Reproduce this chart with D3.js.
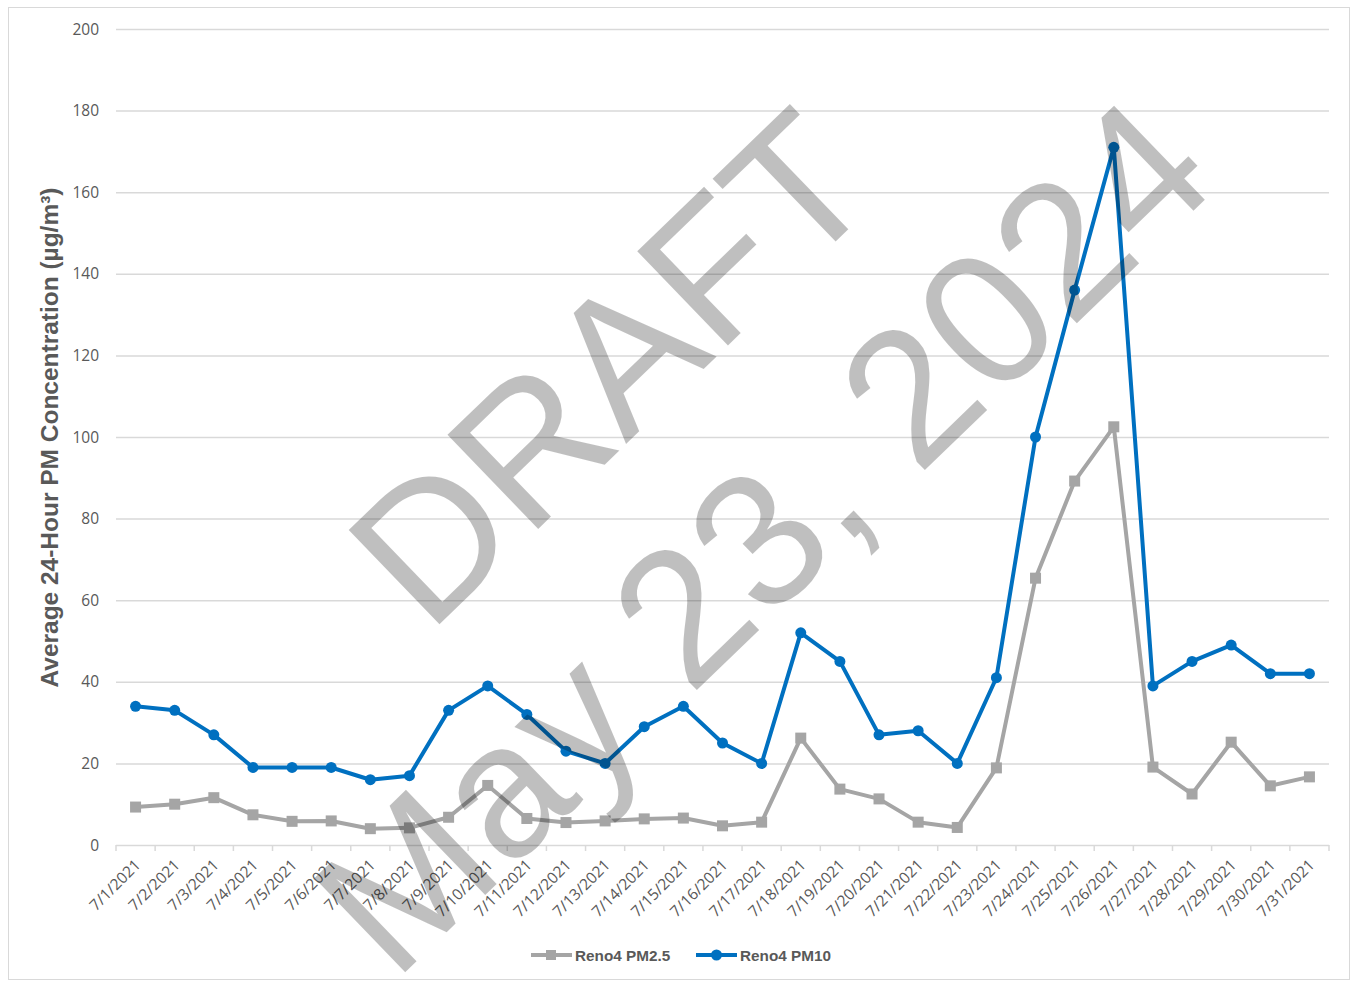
<!DOCTYPE html>
<html><head><meta charset="utf-8">
<script src="https://cdn.jsdelivr.net/npm/d3@7"></script>
<style>html,body{margin:0;padding:0;background:#fff;} svg{display:block;}</style>
</head><body>
<svg id="chart" width="1353" height="981"></svg>
<script>
const dates = ["7/1/2021","7/2/2021","7/3/2021","7/4/2021","7/5/2021","7/6/2021","7/7/2021","7/8/2021","7/9/2021","7/10/2021","7/11/2021","7/12/2021","7/13/2021","7/14/2021","7/15/2021","7/16/2021","7/17/2021","7/18/2021","7/19/2021","7/20/2021","7/21/2021","7/22/2021","7/23/2021","7/24/2021","7/25/2021","7/26/2021","7/27/2021","7/28/2021","7/29/2021","7/30/2021","7/31/2021"];
const pm25 = [9.3,10.0,11.6,7.4,5.8,5.9,4.0,4.2,6.8,14.6,6.5,5.5,5.9,6.4,6.6,4.7,5.6,26.2,13.7,11.3,5.6,4.3,18.9,65.4,89.2,102.5,19.1,12.5,25.2,14.5,16.7];
const pm10 = [34,33,27,19,19,19,16,17,33,39,32,23,20,29,34,25,20,52,45,27,28,20,41,100,136,171,39,45,49,42,42];
const yTicks = [0,20,40,60,80,100,120,140,160,180,200];
const seriesNames = ["Reno4 PM2.5","Reno4 PM10"];
const watermarkLines = ["DRAFT","May 23, 2024"];
const yTitle = "Average 24-Hour PM Concentration (µg/m³)";

const svg = d3.select("#chart");
const textColor = "#595959", gridColor = "#d9d9d9";
const blue = "#0070c0", gray = "#a5a5a5";
const font = "'Liberation Sans', Arial, sans-serif";
const tickFont = "'Open Sans', 'Liberation Sans', sans-serif";

svg.append("rect").attr("x",8.5).attr("y",7.5).attr("width",1341).attr("height",972)
  .attr("fill","#fff").attr("stroke","#d9d9d9").attr("stroke-width",1);

const x = d3.scaleBand().domain(dates).range([116,1329]).padding(0);
const y = d3.scaleLinear().domain([0,200]).range([845,29]);

// gridlines
svg.append("g").selectAll("line").data(yTicks).join("line")
  .attr("x1",116).attr("x2",1329).attr("y1",d=>y(d)+0.5).attr("y2",d=>y(d)+0.5)
  .attr("stroke",gridColor).attr("stroke-width",1.5);

// y axis labels
svg.append("g").selectAll("text").data(yTicks).join("text")
  .attr("x",99).attr("y",d=>y(d)).attr("dy","0.36em").attr("text-anchor","end")
  .attr("font-family",tickFont).attr("font-size",15.5).attr("fill",textColor).text(d=>d);

// x ticks at category boundaries
const bounds = dates.map(d=>x(d)).concat([x.range()[1]]);
svg.append("g").selectAll("line").data(bounds).join("line")
  .attr("x1",d=>d).attr("x2",d=>d).attr("y1",845).attr("y2",851)
  .attr("stroke",gridColor).attr("stroke-width",1.5);

// x labels
svg.append("g").selectAll("text").data(dates).join("text")
  .attr("transform",d=>`translate(${x(d)+x.bandwidth()/2+6},${866}) rotate(-45)`)
  .attr("text-anchor","end").attr("font-family",tickFont).attr("font-size",15.5)
  .attr("fill",textColor).text(d=>d);

// y title, sized to span the reference length
const yt = svg.append("text").attr("transform","translate(58,437.5) rotate(-90)")
  .attr("text-anchor","middle").attr("font-family",font).attr("font-weight","bold")
  .attr("font-size",20).attr("fill",textColor).text(yTitle);
const natural = yt.node().getComputedTextLength();
yt.attr("font-size", 20*500/natural);

const cx = d => x(d)+x.bandwidth()/2;
const line = d3.line().x((d,i)=>cx(dates[i])).y(d=>y(d));

// PM2.5
svg.append("path").datum(pm25).attr("d",line).attr("fill","none")
  .attr("stroke",gray).attr("stroke-width",4).attr("stroke-linejoin","round");
svg.append("g").selectAll("rect").data(pm25).join("rect")
  .attr("x",(d,i)=>cx(dates[i])-5.5).attr("y",d=>y(d)-5.5).attr("width",11).attr("height",11)
  .attr("fill",gray);

// PM10
svg.append("path").datum(pm10).attr("d",line).attr("fill","none")
  .attr("stroke",blue).attr("stroke-width",4).attr("stroke-linejoin","round");
svg.append("g").selectAll("circle").data(pm10).join("circle")
  .attr("cx",(d,i)=>cx(dates[i])).attr("cy",d=>y(d)).attr("r",5.5).attr("fill",blue);

// legend
const lg = svg.append("g").attr("font-family",font).attr("font-weight","bold")
  .attr("font-size",15.3).attr("fill",textColor);
const legendItems = [{name:seriesNames[0],color:gray,shape:"rect",x0:531},
                     {name:seriesNames[1],color:blue,shape:"circle",x0:696}];
legendItems.forEach(it=>{
  lg.append("line").attr("x1",it.x0).attr("x2",it.x0+41).attr("y1",955).attr("y2",955)
    .attr("stroke",it.color).attr("stroke-width",4);
  if(it.shape==="rect") lg.append("rect").attr("x",it.x0+15).attr("y",950).attr("width",10).attr("height",10).attr("fill",it.color);
  else lg.append("circle").attr("cx",it.x0+20.5).attr("cy",955).attr("r",5.5).attr("fill",it.color);
  lg.append("text").attr("x",it.x0+44).attr("y",955).attr("dy","0.36em").text(it.name);
});

// watermark
const wm = svg.append("g").attr("font-family",font).attr("font-size",190)
  .attr("fill","rgba(0,0,0,0.25)");
wm.append("text").attr("transform","translate(656,415) rotate(-44)")
  .attr("text-anchor","middle").text(watermarkLines[0]);
wm.append("text").attr("transform","translate(808,583) rotate(-44)")
  .attr("text-anchor","middle").text(watermarkLines[1]);
</script>
</body></html>
